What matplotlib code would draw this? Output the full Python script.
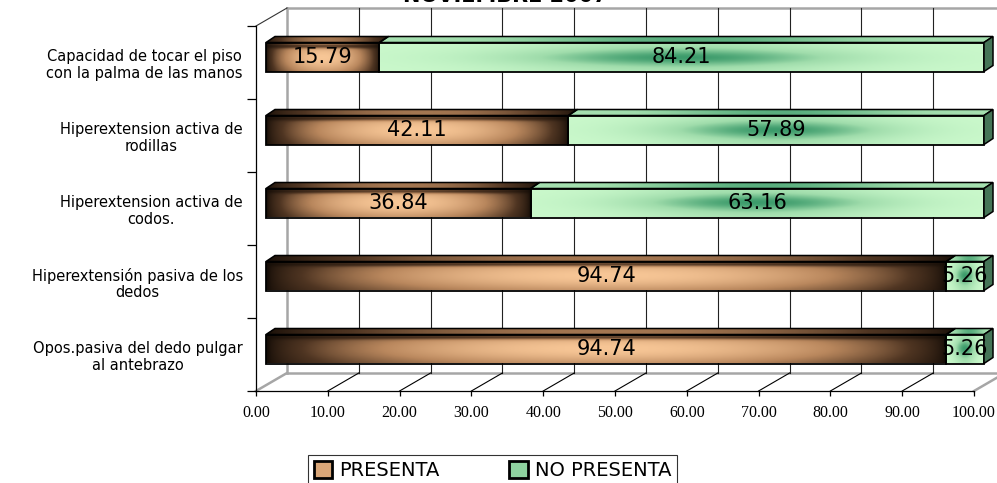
import numpy as np
import matplotlib.pyplot as plt
from matplotlib.patches import Polygon, Patch
from matplotlib.colors import LinearSegmentedColormap

# datos
categorias = [
    "Capacidad de tocar el piso\ncon la palma de las manos",
    "Hiperextension activa de\nrodillas",
    "Hiperextension activa de\ncodos.",
    "Hiperextensión pasiva de los\ndedos",
    "Opos.pasiva del dedo pulgar\nal antebrazo",
]
presenta = [15.79, 42.11, 36.84, 94.74, 94.74]
no_presenta = [84.21, 57.89, 63.16, 5.26, 5.26]
series = ["PRESENTA", "NO PRESENTA"]
xticks = np.arange(0, 101, 10)
titulo = "NOVIEMBRE 2007"

W, H = 997, 483
fig = plt.figure(figsize=(W / 100, H / 100), dpi=100)
ax = fig.add_axes([256 / W, (H - 391) / H, 718 / W, (391 - 26) / H])
ax.set_autoscale_on(False)
ax.set_xlim(0, 100)
ax.set_ylim(-0.5, 4.5)

# pixeles por unidad de datos
ux = 718 / 100
uy = 365 / 5
wdx, wdy = 31 / ux, 18 / uy      # pared del fondo
bdx, bdy = 10 / ux, 5.5 / uy     # cara frontal de las barras
ddx, ddy = 9 / ux, 6 / uy        # profundidad de las barras
bar_h = 29 / uy

gris = "#a6a6a6"
# pared del fondo y piso
ax.plot([wdx, wdx], [-0.5 + wdy, 4.5 + wdy], color=gris, lw=1.8, clip_on=False, zorder=1)
ax.plot([wdx, 100 + wdx], [4.5 + wdy] * 2, color=gris, lw=1.8, clip_on=False, zorder=1)
ax.plot([wdx, 100 + wdx], [-0.5 + wdy] * 2, color=gris, lw=1.8, clip_on=False, zorder=1)
ax.plot([0, wdx], [4.5, 4.5 + wdy], color="#333333", lw=0.8, clip_on=False, zorder=1)
for x in xticks:
    if 0 < x < 100:
        ax.plot([x + wdx] * 2, [-0.5 + wdy, 4.5 + wdy], color="#222222", lw=0.8, clip_on=False, zorder=1)
        ax.plot([x, x + wdx], [-0.5, -0.5 + wdy], color="black", lw=0.8, clip_on=False, zorder=1)
    else:
        ax.plot([x, x + wdx], [-0.5, -0.5 + wdy], color=gris, lw=1.8, clip_on=False, zorder=1)

marron = LinearSegmentedColormap.from_list("marron", ["#140c06", "#4f3522", "#b9875d", "#f7c696"])
verde = LinearSegmentedColormap.from_list("verde", ["#cbf9cc", "#9fdcab", "#3c9b6b"])


def gradiente(kind, nx, ny, top=False):
    t = np.linspace(0, 1, nx)[None, :]
    s = np.linspace(0, 1, ny)[:, None]
    if kind == "p":
        h = np.sin(np.pi * t) ** 0.6
        if top:
            val = 0.6 * h * np.ones_like(s)
        else:
            v = (0.75 + 0.25 * np.sin(np.pi * s)) * (1 - 0.55 * np.exp(-((s - 0.9) / 0.08) ** 2))
            val = h * v
        return marron(val)[..., :3]
    g = np.exp(-((t - 0.5) / 0.28) ** 2)
    if top:
        val = 0.4 + 0.45 * g * np.ones_like(s)
    else:
        val = g * (0.35 + 0.65 * np.exp(-((s - 0.5) / 0.3) ** 2))
    return verde(val)[..., :3]


def segmento(x0, x1, yc, kind, fin=False):
    X0, X1 = x0 + bdx, x1 + bdx
    y0, y1 = yc - bar_h / 2 + bdy, yc + bar_h / 2 + bdy
    im = ax.imshow(gradiente(kind, 200, 40), extent=(X0, X1, y0, y1), origin="lower",
                   aspect="auto", interpolation="bilinear", zorder=3)
    im.set_clip_on(False)
    ax.add_patch(Polygon([(X0, y0), (X1, y0), (X1, y1), (X0, y1)], closed=True,
                         fill=False, ec="black", lw=1.3, zorder=4, clip_on=False))
    tapa = Polygon([(X0, y1), (X1, y1), (X1 + ddx, y1 + ddy), (X0 + ddx, y1 + ddy)],
                   closed=True, fill=False, ec="black", lw=1.1, zorder=4, clip_on=False)
    ax.add_patch(tapa)
    im = ax.imshow(gradiente(kind, 200, 10, top=True), extent=(X0, X1 + ddx, y1, y1 + ddy),
                   origin="lower", aspect="auto", interpolation="bilinear", zorder=3)
    im.set_clip_box(fig.bbox)
    im.set_clip_path(tapa)
    if fin:
        ax.add_patch(Polygon([(X1, y0), (X1 + ddx, y0 + ddy), (X1 + ddx, y1 + ddy), (X1, y1)],
                             closed=True, fc="#457557", ec="black", lw=1.1, zorder=4, clip_on=False))


for i, (p, n) in enumerate(zip(presenta, no_presenta)):
    yc = 4 - i
    segmento(0, p, yc, "p")
    segmento(p, p + n, yc, "n", fin=True)
    ax.text(p / 2 + bdx, yc + bdy, f"{p:.2f}", ha="center", va="center", fontsize=15, zorder=5)
    ax.text(p + n / 2 + bdx, yc + bdy, f"{n:.2f}", ha="center", va="center", fontsize=15, zorder=5)

# ejes
for side in ["top", "right"]:
    ax.spines[side].set_visible(False)
for side in ["left", "bottom"]:
    ax.spines[side].set_linewidth(0.9)
    ax.spines[side].set_zorder(2)
ax.set_xticks(xticks, [f"{x:.2f}" for x in xticks])
ax.tick_params(axis="x", length=3.6, width=0.9, pad=6.5, labelsize=11.5,
               labelfontfamily="Liberation Serif")
ax.set_yticks(np.arange(-0.5, 4.6, 1), [""] * 6)
ax.tick_params(axis="y", which="major", length=6.5, width=0.9)
ax.set_yticks([4 - i for i in range(len(categorias))], categorias, minor=True)
ax.tick_params(axis="y", which="minor", length=0, pad=9.5, labelsize=10.5)
for lbl in ax.get_yticklabels(minor=True):
    lbl.set_multialignment("center")
    lbl.set_linespacing(1.15)

fig.text(505 / W, (H - 1.5) / H, titulo, ha="center", va="baseline", fontsize=15, fontweight="bold")

handles = [Patch(facecolor="#d9a678", edgecolor="black", lw=2),
           Patch(facecolor="#8fd3a0", edgecolor="black", lw=2)]
leg = fig.legend(handles, series, loc="upper left", bbox_to_anchor=(308 / W, (H - 455) / H),
                 ncol=2, frameon=True, fancybox=False, edgecolor="black", fontsize=14,
                 handlelength=0.95, handleheight=0.95, handletextpad=0.35, columnspacing=3.6,
                 borderpad=0.3, borderaxespad=0)
leg.get_frame().set_linewidth(0.8)

fig.savefig("out.png", dpi=100)
